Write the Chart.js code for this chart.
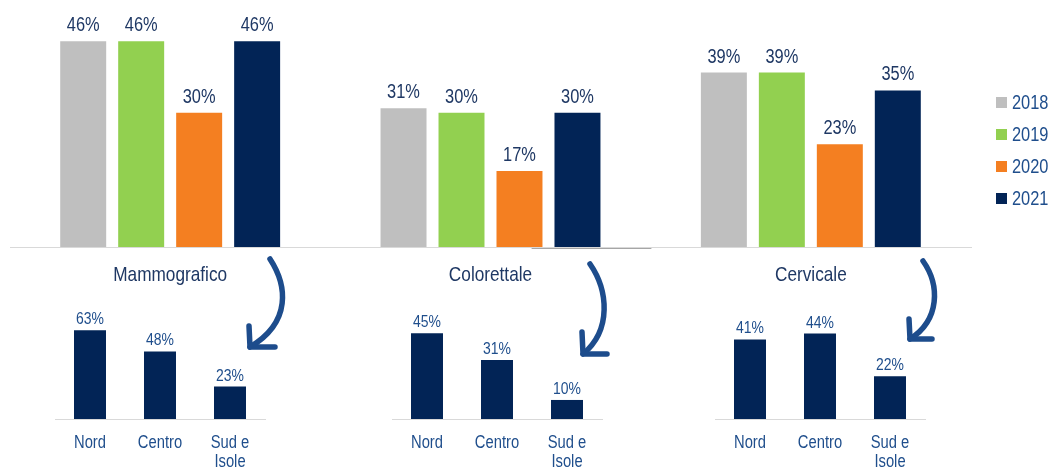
<!DOCTYPE html>
<html>
<head>
<meta charset="utf-8">
<script src="https://cdn.jsdelivr.net/npm/chart.js@4"></script>
<style>
  body { margin: 0; width: 1052px; height: 468px; background: #fff; position: relative; overflow: hidden; font-family: "Liberation Sans", Arial, sans-serif; }
  canvas { position: absolute; }
  #legend { position: absolute; left: 996px; top: 86px; }
  .item { display: flex; align-items: center; height: 32px; color: #1f4e8c; font-size: 20px; }
  .item .box { width: 11px; height: 11px; margin-right: 5px; flex: none; }
  .item .txt { display: inline-block; transform: scaleX(0.82); transform-origin: left center; }
  #arrows { pointer-events: none; }
</style>
</head>
<body>
<canvas id="topChart" style="left:0;top:0" width="980" height="290"></canvas>
<canvas id="mammoChart" style="left:40px;top:299px" width="240" height="169"></canvas>
<canvas id="coloChart" style="left:377px;top:300px" width="240" height="168"></canvas>
<canvas id="cervChart" style="left:700px;top:300px" width="240" height="168"></canvas>
<canvas id="arrows" style="left:0;top:0" width="1052" height="468"></canvas>
<div id="legend"></div>

<script>
// screening programmes and years
const programmes = ['Mammografico', 'Colorettale', 'Cervicale'];
const years = ['2018', '2019', '2020', '2021'];
const yearColors = ['#bfbfbf', '#92d050', '#f47f21', '#022456'];

// coverage per year, one value per programme
const values2018 = [46, 31, 39];
const values2019 = [46, 30, 39];
const values2020 = [30, 17, 23];
const values2021 = [46, 30, 35];

// 2021 coverage by area
const areas = ['Nord', 'Centro', ['Sud e', 'Isole']];
const mammoAreas = [63, 48, 23];
const coloAreas = [45, 31, 10];
const cervAreas = [41, 44, 22];

const navy = '#022456';
const darkText = '#1f3864';
const blueText = '#1f4e8c';
const font = '"Liberation Sans", Arial, sans-serif';
const squeeze = 0.82; // narrow lettering

function narrowText(ctx, text, x, y) {
  ctx.save();
  ctx.translate(x, y);
  ctx.scale(squeeze, 1);
  ctx.fillText(text, 0, 0);
  ctx.restore();
}

// draws "NN%" above every bar
const barLabels = {
  id: 'barLabels',
  afterDatasetsDraw(chart, args, opts) {
    const ctx = chart.ctx;
    ctx.save();
    ctx.fillStyle = opts.color;
    ctx.font = opts.size + 'px ' + font;
    ctx.textAlign = 'center';
    ctx.textBaseline = 'alphabetic';
    chart.data.datasets.forEach((ds, i) => {
      chart.getDatasetMeta(i).data.forEach((bar, j) => {
        narrowText(ctx, ds.data[j] + '%', bar.x, bar.y - opts.offset);
      });
    });
    ctx.restore();
  }
};

// category names under the x axis, one line per array entry
const narrowTicks = {
  id: 'narrowTicks',
  afterDraw(chart, args, opts) {
    const ctx = chart.ctx;
    const xScale = chart.scales.x;
    ctx.save();
    ctx.fillStyle = opts.color;
    ctx.font = opts.size + 'px ' + font;
    ctx.textAlign = 'center';
    ctx.textBaseline = 'alphabetic';
    chart.data.labels.forEach((label, i) => {
      [].concat(label).forEach((line, k) => {
        narrowText(ctx, line, xScale.getPixelForTick(i), chart.chartArea.bottom + opts.gap + k * opts.lineHeight);
      });
    });
    ctx.restore();
  }
};

const seriesValues = [values2018, values2019, values2020, values2021];

new Chart(document.getElementById('topChart'), {
  type: 'bar',
  data: {
    labels: programmes,
    datasets: years.map((y, i) => ({
      label: y,
      data: seriesValues[i],
      backgroundColor: yearColors[i],
      categoryPercentage: 0.724,
      barPercentage: 0.793
    }))
  },
  options: {
    responsive: false,
    animation: false,
    layout: { padding: { top: 1, left: 10, right: 9, bottom: 0 } },
    scales: {
      x: {
        grid: { display: false },
        border: { display: true, color: '#d9d9d9', width: 1 },
        ticks: { display: false },
        afterFit(scale) { scale.height = 43; }
      },
      y: { display: false, min: 0, max: 55 }
    },
    plugins: {
      legend: { display: false },
      tooltip: { enabled: false },
      barLabels: { color: darkText, size: 20, offset: 10 },
      narrowTicks: { color: darkText, size: 21, gap: 34, lineHeight: 24 }
    }
  },
  plugins: [barLabels, narrowTicks]
});

// small area charts under each programme
function areaChart(id, data, max) {
  new Chart(document.getElementById(id), {
    type: 'bar',
    data: {
      labels: areas,
      datasets: [{ data: data, backgroundColor: navy, categoryPercentage: 1, barPercentage: 0.457 }]
    },
    options: {
      responsive: false,
      animation: false,
      layout: { padding: { top: 20, left: 15, right: 15, bottom: 0 } },
      scales: {
        x: {
          grid: { display: false },
          border: { display: true, color: '#d9d9d9', width: 1 },
          ticks: { display: false },
          afterFit(scale) { scale.height = 49; }
        },
        y: { display: false, min: 0, max: max }
      },
      plugins: {
        legend: { display: false },
        tooltip: { enabled: false },
        barLabels: { color: blueText, size: 17, offset: 6 },
        narrowTicks: { color: blueText, size: 18, gap: 29, lineHeight: 19 }
      }
    },
    plugins: [barLabels, narrowTicks]
  });
}

areaChart('mammoChart', mammoAreas, 71);
areaChart('coloChart', coloAreas, 52);
areaChart('cervChart', cervAreas, 51);

// legend
const legend = document.getElementById('legend');
years.forEach((y, i) => {
  const item = document.createElement('div');
  item.className = 'item';
  const box = document.createElement('span');
  box.className = 'box';
  box.style.background = yearColors[i];
  const txt = document.createElement('span');
  txt.className = 'txt';
  txt.textContent = y;
  item.appendChild(box);
  item.appendChild(txt);
  legend.appendChild(item);
});

// curved arrows pointing from each programme to its area breakdown
const actx = document.getElementById('arrows').getContext('2d');
actx.strokeStyle = '#1d4c8c';
actx.lineWidth = 5.5;
actx.lineCap = 'round';
actx.lineJoin = 'round';

function arrow(sx, sy, c1x, c1y, c2x, c2y, tx, ty, upLen, rightLen) {
  actx.beginPath();
  actx.moveTo(sx, sy);
  actx.bezierCurveTo(c1x, c1y, c2x, c2y, tx, ty);
  actx.stroke();
  actx.beginPath();
  actx.moveTo(tx - 1, ty - upLen);
  actx.lineTo(tx, ty);
  actx.lineTo(tx + rightLen, ty);
  actx.stroke();
}

arrow(270, 259, 287, 285, 292, 322, 250, 347, 21, 25);
arrow(590, 264, 608, 290, 612, 330, 583, 354, 22, 24);
arrow(923, 261, 940, 285, 940, 320, 910, 339, 20, 22);

// stray divider under the middle group
actx.strokeStyle = '#a6a6a6';
actx.lineWidth = 1;
actx.beginPath();
actx.moveTo(532, 248.5);
actx.lineTo(651, 248.5);
actx.stroke();
</script>
</body>
</html>
